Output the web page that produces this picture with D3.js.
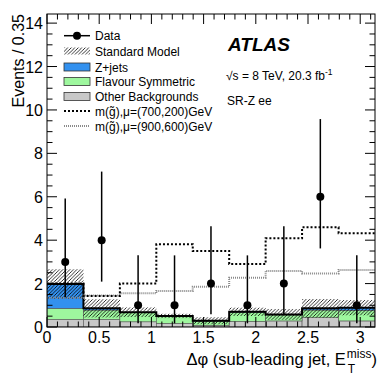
<!DOCTYPE html>
<html><head><meta charset="utf-8">
<script src="https://cdn.jsdelivr.net/npm/d3@7"></script>
<style>body{margin:0;background:#fff}svg{display:block}text{font-family:"Liberation Sans",Arial,Helvetica,sans-serif}</style>
</head><body>
<svg id="c" width="390" height="375"></svg>
<script>
// ---- data ----
const binEdges = [0, 0.349, 0.698, 1.047, 1.396, 1.745, 2.094, 2.443, 2.793, 3.1416];
const dataCounts = [3, 4, 1, 1, 2, 1, 2, 6, 1];
const dataErrLow = [1.63, 1.91, 0.83, 0.83, 1.41, 0.83, 1.41, 2.38, 0.83];
const dataErrHigh = [2.92, 3.16, 2.30, 2.30, 2.64, 2.30, 2.64, 3.58, 2.30];
const otherBkg = [0.35, 0.35, 0.24, 0.17, 0.08, 0.26, 0.28, 0.43, 0.28];
const flavourSym = [0.51, 0.43, 0.42, 0.31, 0.19, 0.42, 0.28, 0.35, 0.49];
const zJets = [1.12, 0.08, 0.02, 0.03, 0.02, 0.02, 0.02, 0.08, 0.12];
const smUnc = [0.68, 0.42, 0.22, 0.10, 0.16, 0.19, 0.25, 0.43, 0.35];
const sig700_200 = [2.0, 1.43, 2.0, 3.81, 3.5, 2.9, 4.09, 4.59, 4.32];
const sig900_600 = [1.35, 1.45, 1.55, 1.66, 1.86, 2.27, 2.58, 2.47, 2.63];
const xTickLabels = ["0", "0.5", "1", "1.5", "2", "2.5", "3"];
const yTickLabels = ["0", "2", "4", "6", "8", "10", "12", "14"];
const legendLabels = ["Data", "Standard Model", "Z+jets", "Flavour Symmetric", "Other Backgrounds",
  "m(g\u0303),\u03bc=(700,200)GeV", "m(g\u0303),\u03bc=(900,600)GeV"];

// ---- layout ----
const L = 47, R = 375, T = 14, B = 327;
const x = d3.scaleLinear().domain([0, Math.PI]).range([L, R]);
const y = d3.scaleLinear().domain([0, 14.42]).range([B, T]);
const svg = d3.select("#c");
const C = {other: "#c8c8c8", fs: "#9ef79e", z: "#3391ef"};

const defs = svg.append("defs");
const hp = defs.append("pattern").attr("id", "hatch").attr("patternUnits", "userSpaceOnUse")
  .attr("width", 3.5).attr("height", 3.5);
hp.append("path").attr("d", "M-1,1 l2,-2 M0,3.5 l3.5,-3.5 M2.5,4.5 l2,-2")
  .attr("stroke", "#000").attr("stroke-width", 0.8);
defs.append("clipPath").attr("id", "clip").append("rect")
  .attr("x", L).attr("y", T).attr("width", R - L).attr("height", B - T);

const bins = dataCounts.map((d, i) => {
  const o = otherBkg[i], f = o + flavourSym[i], z = f + zJets[i];
  return {i, x0: binEdges[i], x1: binEdges[i + 1], c: (binEdges[i] + binEdges[i + 1]) / 2,
    o, f, z, u: smUnc[i], d, lo: d - dataErrLow[i], hi: d + dataErrHigh[i]};
});

const g = svg.append("g").attr("clip-path", "url(#clip)");
function layer(key0, key1, color) {
  g.selectAll(null).data(bins).enter().append("rect")
    .attr("x", b => x(b.x0)).attr("width", b => x(b.x1) - x(b.x0))
    .attr("y", b => y(b[key1])).attr("height", b => y(key0 ? b[key0] : 0) - y(b[key1]))
    .attr("fill", color).attr("stroke", "#555").attr("stroke-width", 0.6);
}
layer(null, "o", C.other);
layer("o", "f", C.fs);
layer("f", "z", C.z);

// uncertainty band
g.selectAll(null).data(bins).enter().append("rect")
  .attr("x", b => x(b.x0)).attr("width", b => x(b.x1) - x(b.x0))
  .attr("y", b => y(b.z + b.u)).attr("height", b => y(Math.max(0, b.z - b.u)) - y(b.z + b.u))
  .attr("fill", "url(#hatch)");

const step = d3.line().curve(d3.curveStepAfter).x(p => x(p[0])).y(p => y(p[1]));
function stepPts(vals) { const p = vals.map((v, i) => [binEdges[i], v]); p.push([binEdges[9], vals[8]]); return p; }

// SM total
g.append("path").attr("d", step(stepPts(bins.map(b => b.z)))).attr("fill", "none")
  .attr("stroke", "#000").attr("stroke-width", 2);
// signals
g.append("path").attr("d", step(stepPts(sig900_600))).attr("fill", "none")
  .attr("stroke", "#8a8a8a").attr("stroke-width", 2).attr("stroke-dasharray", "1,1");
g.append("path").attr("d", step(stepPts(sig700_200))).attr("fill", "none")
  .attr("stroke", "#000").attr("stroke-width", 2).attr("stroke-dasharray", "2,2");

// data
g.selectAll(null).data(bins).enter().append("line")
  .attr("x1", b => x(b.c)).attr("x2", b => x(b.c)).attr("y1", b => y(b.lo)).attr("y2", b => y(b.hi))
  .attr("stroke", "#000").attr("stroke-width", 1.5);
g.selectAll(null).data(bins).enter().append("circle")
  .attr("cx", b => x(b.c)).attr("cy", b => y(b.d)).attr("r", 4).attr("fill", "#000");

// ticks (inside, on all four sides)
const ax = svg.append("g").attr("stroke", "#000").attr("stroke-width", 1);
const xMinor = d3.range(0, 32).map(i => i / 10);
xMinor.forEach(v => {
  const major = Math.abs(v * 2 - Math.round(v * 2)) < 1e-6;
  const len = major ? 10 : 5.5;
  ax.append("line").attr("x1", x(v)).attr("x2", x(v)).attr("y1", B).attr("y2", B - len);
  ax.append("line").attr("x1", x(v)).attr("x2", x(v)).attr("y1", T).attr("y2", T + len);
});
const yMinor = d3.range(0, 29).map(i => i / 2);
yMinor.forEach(v => {
  const major = v % 2 === 0;
  const len = major ? 10 : 5.5;
  ax.append("line").attr("x1", L).attr("x2", L + len).attr("y1", y(v)).attr("y2", y(v));
  ax.append("line").attr("x1", R).attr("x2", R - len).attr("y1", y(v)).attr("y2", y(v));
});
svg.append("rect").attr("x", L).attr("y", T).attr("width", R - L).attr("height", B - T)
  .attr("fill", "none").attr("stroke", "#000").attr("stroke-width", 1);

// tick labels
svg.selectAll(null).data(xTickLabels).enter().append("text")
  .attr("x", d => x(+d)).attr("y", 343).attr("text-anchor", "middle")
  .attr("font-size", 16).text(d => d);
svg.selectAll(null).data(yTickLabels).enter().append("text")
  .attr("x", 43).attr("y", d => y(+d) + 6).attr("text-anchor", "end")
  .attr("font-size", 16).text(d => d);

// axis titles
svg.append("text").attr("transform", "translate(24,14) rotate(-90)").attr("text-anchor", "end")
  .attr("font-size", 16).text("Events / 0.35");
const xt = svg.append("g");
const closeP = xt.append("text").attr("x", 377).attr("y", 365).attr("text-anchor", "end").attr("font-size", 16.5).text(")");
const cw = closeP.node().getComputedTextLength();
const miss = xt.append("text").attr("x", 377 - cw).attr("y", 358).attr("text-anchor", "end").attr("font-size", 12).text("miss");
const mw = miss.node().getComputedTextLength();
xt.append("text").attr("x", 377 - cw - mw + 1).attr("y", 373).attr("font-size", 12).text("T");
xt.append("text").attr("x", 377 - cw - mw - 1).attr("y", 365).attr("text-anchor", "end").attr("font-size", 16.5)
  .text("\u0394\u03c6 (sub-leading jet, E");

// ATLAS labels
svg.append("text").attr("x", 228).attr("y", 51).attr("font-size", 19).attr("font-weight", "bold")
  .attr("font-style", "italic").text("ATLAS");
const en = svg.append("text").attr("x", 226).attr("y", 80).attr("font-size", 12);
en.append("tspan").text("\u221as = 8 TeV, 20.3 fb");
en.append("tspan").attr("dy", -5).attr("font-size", 8.5).text("-1");
svg.append("text").attr("x", 227).attr("y", 105).attr("font-size", 12).text("SR-Z ee");

// legend
const lg = svg.append("g");
const ly = [35.7, 51, 67, 81.5, 96.5, 111, 126];
const lx0 = 64, lx1 = 90;
lg.append("line").attr("x1", lx0).attr("x2", lx1).attr("y1", ly[0]).attr("y2", ly[0]).attr("stroke", "#000").attr("stroke-width", 1.5);
lg.append("circle").attr("cx", (lx0 + lx1) / 2).attr("cy", ly[0]).attr("r", 4);
lg.append("rect").attr("x", lx0).attr("y", ly[1] - 3.5).attr("width", lx1 - lx0).attr("height", 7).attr("fill", "url(#hatch)");
[[2, C.z], [3, C.fs], [4, C.other]].forEach(([k, col]) => {
  lg.append("rect").attr("x", lx0).attr("y", ly[k] - 4).attr("width", lx1 - lx0).attr("height", 8)
    .attr("fill", col).attr("stroke", "#333").attr("stroke-width", 0.8);
});
lg.append("line").attr("x1", lx0).attr("x2", lx1).attr("y1", ly[5]).attr("y2", ly[5]).attr("stroke", "#000").attr("stroke-width", 2).attr("stroke-dasharray", "2,2");
lg.append("line").attr("x1", lx0).attr("x2", lx1).attr("y1", ly[6]).attr("y2", ly[6]).attr("stroke", "#8a8a8a").attr("stroke-width", 2).attr("stroke-dasharray", "1,1");
lg.selectAll(null).data(legendLabels).enter().append("text")
  .attr("x", 95).attr("y", (d, i) => ly[i] + 4.5).attr("font-size", 12).text(d => d);
</script>
</body></html>
